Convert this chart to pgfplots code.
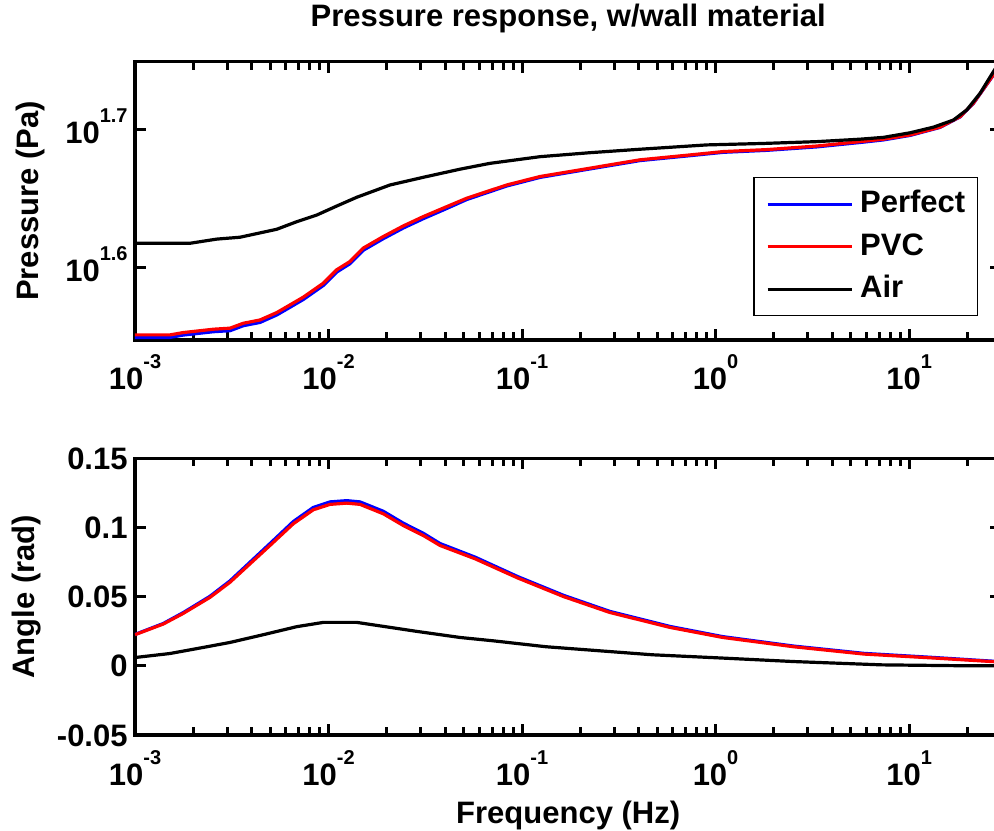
\documentclass[border=0pt]{standalone}
\usepackage{pgfplots}
\pgfplotsset{compat=1.18}
\usepackage{fontspec}
\setmainfont{Liberation Sans}
\newcommand{\ee}[1]{10\raisebox{10.5pt}{\fontsize{10}{10}\selectfont #1}}
\begin{document}
\begin{tikzpicture}[font=\bfseries\fontsize{15.5}{18}\selectfont]
% top: magnitude
\begin{axis}[
  scale only axis, width=433.2pt, height=139.15pt,
  at={(67.5pt,245pt)}, anchor=south west,
  xmode=log, xmin=0.001, xmax=30,
  xtick={0.001,0.01,0.1,1,10},
  minor xtick={0.002,0.003,0.004,0.005,0.006,0.007,0.008,0.009,
    0.02,0.03,0.04,0.05,0.06,0.07,0.08,0.09,
    0.2,0.3,0.4,0.5,0.6,0.7,0.8,0.9,2,3,4,5,6,7,8,9,20},
  xticklabels={\ee{-3},\ee{-2},\ee{-1},\ee{0},\ee{1}},
  axis line style={line width=1.8pt},
  tick align=inside, xtick pos=both, ytick pos=both,
  xtick style={black, line width=1.5pt},
  ytick style={black, line width=1.5pt},
  major tick length=5.5pt, minor tick length=4pt,
  xticklabel style={anchor=base, inner sep=0pt, yshift=-25pt},
  yticklabel style={anchor=base east, inner sep=0pt, xshift=-3.5pt, yshift=-6.65pt},
  ymode=log, ymin=35.30, ymax=56.17,
  ytick={39.8107,50.1187}, yticklabels={\ee{1.6},\ee{1.7}},
  yminorticks=false,
  title={Pressure response, w/wall material},
  title style={at={(0.5,1)}, anchor=base, inner sep=0pt, yshift=11.7pt},
  ylabel={Pressure (Pa)},
  ylabel style={at={(axis description cs:-0.1206,0.5)}, anchor=center, inner sep=0pt},
  legend style={at={(axis description cs:0.973,0.5857)}, anchor=north east,
    draw=black, line width=0.75pt, fill=white, inner xsep=6pt, inner ysep=6pt,
    row sep=6.75pt, column sep=3.5pt,
    nodes={inner sep=0pt, text height=11.5pt, text depth=3pt},
    cells={anchor=west}},
  legend image code/.code={\draw[#1, line width=1.6pt] (0pt,0pt) -- (42pt,0pt);},
]
\addplot[blue, line width=1.6pt] coordinates {
(0.001,35.45)(0.001516,35.45)(0.001777,35.59)(0.00254,35.79)(0.003097,35.85)
(0.003628,36.15)(0.004426,36.35)(0.005398,36.80)(0.006324,37.28)(0.007411,37.77)
(0.0094,38.66)(0.01103,39.54)(0.01292,40.09)(0.01513,41.00)(0.0192,41.80)
(0.02436,42.55)(0.0309,43.22)(0.0392,43.85)(0.05178,44.62)(0.08336,45.64)
(0.1239,46.30)(0.2245,46.96)(0.4071,47.62)(0.7383,48.01)(1.097,48.28)
(1.839,48.44)(3.334,48.72)(5.583,49.08)(7.367,49.29)(10.12,49.66)
(14.46,50.33)(18.35,51.22)(21.49,52.38)(27.28,54.93)(30,56.0)};
\addlegendentry{Perfect}
\addplot[red, line width=1.6pt] coordinates {
(0.001,35.60)(0.001516,35.60)(0.001777,35.74)(0.00254,35.94)(0.003097,36.00)
(0.003628,36.30)(0.004426,36.50)(0.005398,36.95)(0.006324,37.43)(0.007411,37.92)
(0.0094,38.81)(0.01103,39.69)(0.01292,40.24)(0.01513,41.15)(0.0192,41.95)
(0.02436,42.70)(0.0309,43.37)(0.0392,43.99)(0.05178,44.72)(0.08336,45.72)
(0.1239,46.37)(0.2245,47.02)(0.4071,47.68)(0.7383,48.07)(1.097,48.34)
(1.839,48.50)(3.334,48.79)(5.583,49.15)(7.367,49.35)(10.12,49.70)
(14.46,50.35)(18.35,51.24)(21.49,52.40)(27.28,54.95)(30,56.0)};
\addlegendentry{PVC}
\addplot[black, line width=1.6pt] coordinates {
(0.001,41.48)(0.001924,41.48)(0.002644,41.77)(0.003488,41.90)(0.005398,42.46)
(0.006849,43.00)(0.008689,43.48)(0.01103,44.14)(0.01399,44.79)(0.02079,45.72)
(0.0309,46.31)(0.04782,46.94)(0.06833,47.40)(0.1239,47.93)(0.2245,48.25)
(0.4071,48.53)(0.9005,48.88)(1.76,49.00)(3.334,49.15)(5.583,49.35)
(7.367,49.50)(10.12,49.88)(13.36,50.35)(16.94,50.95)(19.87,51.82)
(23.28,53.28)(27.28,55.24)(30,56.4)};
\addlegendentry{Air}
\end{axis}
% bottom: phase
\begin{axis}[
  scale only axis, width=433.2pt, height=138.35pt,
  at={(67.5pt,47.5pt)}, anchor=south west,
  xmode=log, xmin=0.001, xmax=30,
  xtick={0.001,0.01,0.1,1,10},
  minor xtick={0.002,0.003,0.004,0.005,0.006,0.007,0.008,0.009,
    0.02,0.03,0.04,0.05,0.06,0.07,0.08,0.09,
    0.2,0.3,0.4,0.5,0.6,0.7,0.8,0.9,2,3,4,5,6,7,8,9,20},
  xticklabels={\ee{-3},\ee{-2},\ee{-1},\ee{0},\ee{1}},
  axis line style={line width=1.8pt},
  tick align=inside, xtick pos=both, ytick pos=both,
  xtick style={black, line width=1.5pt},
  ytick style={black, line width=1.5pt},
  major tick length=5.5pt, minor tick length=4pt,
  xticklabel style={anchor=base, inner sep=0pt, yshift=-25pt},
  yticklabel style={anchor=base east, inner sep=0pt, xshift=-3.5pt, yshift=-5.55pt},
  ymin=-0.05, ymax=0.15,
  ytick={-0.05,0,0.05,0.1,0.15}, yticklabels={-0.05,0,0.05,0.1,0.15},
  xlabel={Frequency (Hz)},
  xlabel style={at={(axis description cs:0.5,0)}, anchor=base, inner sep=0pt, yshift=-44pt},
  ylabel={Angle (rad)},
  ylabel style={at={(axis description cs:-0.1247,0.5)}, anchor=center, inner sep=0pt},
]
\addplot[blue, line width=1.6pt] coordinates {
(0.001,0.0227)(0.0014,0.0306)(0.001777,0.0385)(0.002442,0.0503)(0.003097,0.0614)
(0.003929,0.0749)(0.004985,0.0884)(0.006578,0.1043)(0.008346,0.1145)(0.01018,0.1185)
(0.01242,0.1194)(0.01455,0.1185)(0.0192,0.1117)(0.02436,0.1031)(0.0309,0.0958)
(0.0377,0.0884)(0.05737,0.0785)(0.09502,0.0645)(0.1643,0.0509)(0.2836,0.0394)
(0.5801,0.0285)(1.09,0.0211)(2.527,0.0143)(5.853,0.0090)(13.58,0.0060)
(27.51,0.0033)(30,0.0030)};
\addplot[red, line width=1.6pt] coordinates {
(0.001,0.0225)(0.0014,0.0302)(0.001777,0.0379)(0.002442,0.0495)(0.003097,0.0604)
(0.003929,0.0737)(0.004985,0.0870)(0.006578,0.1027)(0.008346,0.1128)(0.01018,0.1167)
(0.01242,0.1176)(0.01455,0.1167)(0.0192,0.1099)(0.02436,0.1014)(0.0309,0.0942)
(0.0377,0.0870)(0.05737,0.0773)(0.09502,0.0635)(0.1643,0.0500)(0.2836,0.0386)
(0.5801,0.0278)(1.09,0.0205)(2.527,0.0138)(5.853,0.0085)(13.58,0.0056)
(27.51,0.0030)(30,0.0027)};
\addplot[black, line width=1.6pt] coordinates {
(0.001,0.0060)(0.001516,0.0089)(0.002254,0.0133)(0.003097,0.0169)(0.004603,0.0225)
(0.006849,0.0283)(0.0094,0.0314)(0.01399,0.0314)(0.02079,0.0278)(0.02857,0.0249)
(0.04782,0.0205)(0.07079,0.0181)(0.133,0.0138)(0.25,0.0109)(0.4697,0.0080)
(1.09,0.0056)(2.527,0.0031)(7.228,0.0007)(20.66,0.0)(30,0.0)};
\end{axis}
\pgfresetboundingbox
\useasboundingbox (0,0) rectangle (497pt,415pt);
\end{tikzpicture}
\end{document}
